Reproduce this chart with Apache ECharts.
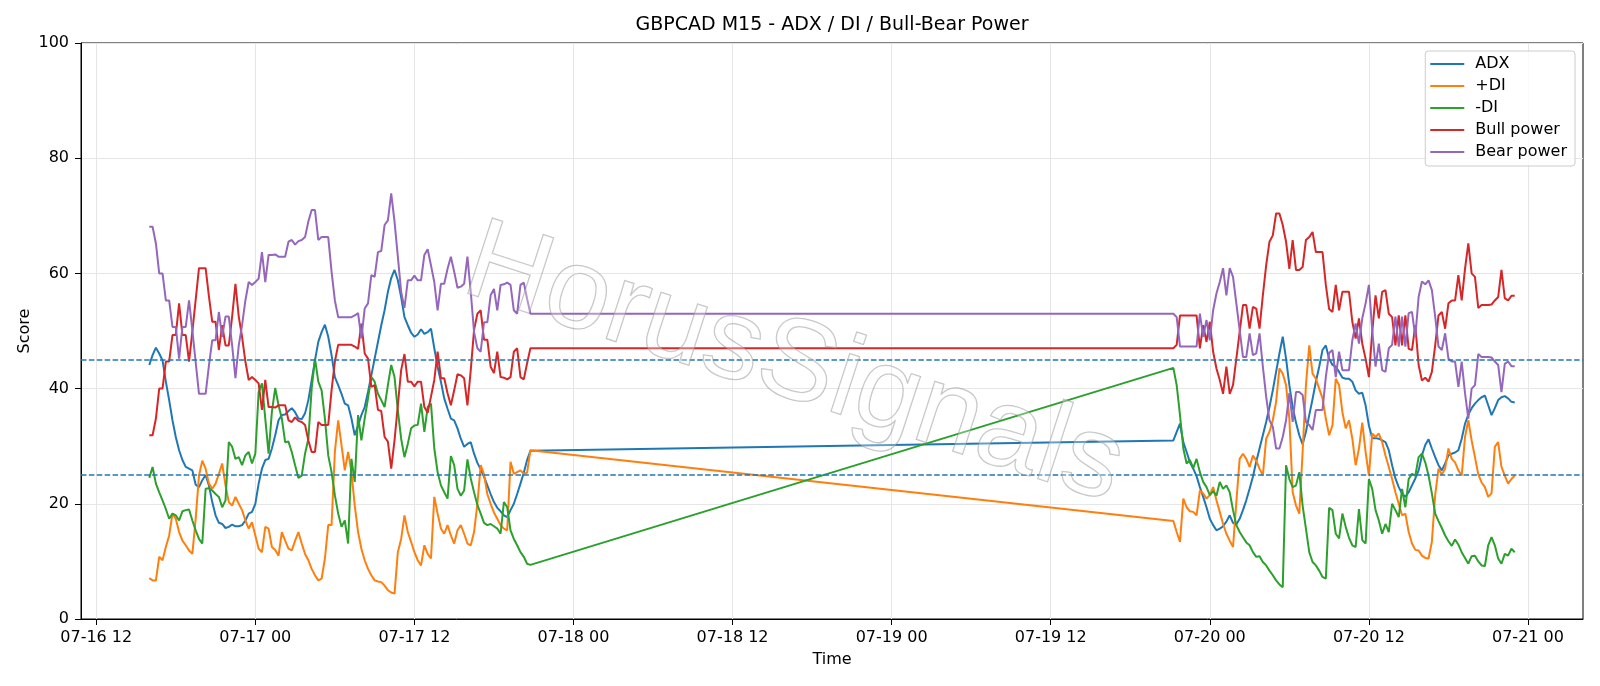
<!DOCTYPE html>
<html>
<head>
    <meta charset="utf-8">
    <title>GBPCAD M15 - ADX / DI / Bull-Bear Power</title>
    <script src="https://cdn.jsdelivr.net/npm/echarts@6/dist/echarts.min.js"></script>
    <style>html, body { margin: 0; padding: 0; background: #fff; }</style>
</head>
<body>
    <div id="main" style="width: 1600px;height:686px;"></div>
    <script type="text/javascript">
        // two trading sessions of 15-minute bars (weekend gap between them)
        var startA = Date.UTC(2020, 6, 16, 16, 0);
        var startB = Date.UTC(2020, 6, 19, 21, 15);
        var barMs = 15 * 60 * 1000;

        var adxA = [
            44.1, 45.8, 47.1, 46.1, 44.9, 41.2, 38.0, 34.5, 31.6, 29.3,
            27.6, 26.4, 26.1, 25.8, 23.3, 22.9, 24.1, 25.0, 23.2, 20.3,
            18.0, 16.7, 16.5, 15.8, 16.0, 16.4, 16.1, 16.1, 16.3, 17.1,
            18.3, 18.6, 20.0, 23.5, 26.1, 27.6, 27.8, 29.6, 31.9, 34.5,
            35.4, 35.5, 36.1, 36.6, 35.9, 34.8, 34.7, 35.7, 38.0, 41.4,
            44.9, 48.1, 49.8, 51.1, 49.0, 45.8, 42.0, 40.6, 39.1, 37.4,
            37.1, 34.8, 31.9, 33.6, 35.4, 36.8, 39.4, 42.3, 45.2, 48.1,
            51.0, 53.6, 56.8, 59.2, 60.6, 58.8, 55.9, 52.4, 51.0, 49.7,
            49.0, 49.4, 50.3, 49.5, 49.8, 50.4, 47.0, 43.8, 41.2, 38.3,
            36.5, 34.8, 34.5, 33.1, 31.3, 29.9, 30.4, 30.7, 28.7, 27.1,
            26.0, 24.7, 23.2, 21.7, 20.3, 19.3, 18.7, 18.0, 17.7, 18.9,
            20.0, 21.7, 23.5, 25.4, 27.6, 29.2
        ];
        var adxB = [
            31.0, 32.5, 33.9, 30.7, 29.0, 27.2, 26.1, 24.8, 22.9, 21.2,
            19.4, 17.4, 16.3, 15.4, 15.7, 16.1, 16.9, 18.0, 16.7, 16.4,
            17.4, 18.9, 20.6, 22.6, 24.7, 27.3, 29.6, 31.9, 34.2, 36.8,
            39.7, 42.9, 46.1, 49.0, 45.2, 40.6, 36.8, 34.1, 31.9, 30.3,
            32.5, 35.4, 38.2, 41.2, 43.8, 46.7, 47.5, 45.2, 44.1, 43.8,
            42.9, 41.9, 41.7, 41.7, 41.2, 39.7, 39.1, 39.3, 37.1, 33.6,
            31.4, 31.4, 31.3, 31.0, 30.7, 29.3, 26.7, 24.4, 22.9, 21.8,
            21.2, 22.0, 23.2, 24.4, 25.8, 28.4, 30.2, 31.2, 29.6, 28.1,
            26.7, 25.8, 27.0, 28.4, 28.7, 28.9, 29.3, 31.3, 33.9, 35.5,
            36.6, 37.4, 38.0, 38.5, 38.8, 37.1, 35.4, 36.6, 38.0, 38.5,
            38.7, 38.3, 37.7, 37.6
        ];

        var plusDiA = [
            7.1, 6.7, 6.7, 10.8, 10.2, 12.5, 14.5, 18.3, 17.4, 15.1,
            13.6, 12.8, 11.9, 11.3, 17.4, 24.9, 27.5, 26.1, 23.5, 22.6,
            23.5, 25.2, 27.0, 23.2, 20.3, 19.7, 21.2, 20.0, 18.9, 17.1,
            15.7, 16.8, 14.5, 12.2, 11.6, 16.0, 15.7, 12.5, 12.0, 11.0,
            15.1, 13.6, 12.2, 11.9, 13.6, 15.1, 13.1, 11.3, 10.2, 8.7,
            7.6, 6.7, 7.0, 10.5, 16.3, 16.3, 29.0, 34.5, 30.2, 25.8,
            29.0, 25.5, 19.7, 15.1, 12.2, 10.2, 8.7, 7.6, 6.7, 6.5,
            6.4, 5.8, 5.0, 4.6, 4.4, 11.6, 13.9, 18.0, 15.1, 13.4,
            11.6, 10.2, 9.3, 12.8, 11.3, 10.5, 21.2, 18.3, 15.7, 14.8,
            16.3, 14.5, 13.1, 15.4, 16.3, 14.8, 13.1, 12.8, 15.1, 20.0,
            26.7, 25.1, 21.7, 20.0, 18.5, 17.4, 16.3, 15.7, 15.4, 27.3,
            25.2, 25.5, 25.8, 25.2, 25.4, 29.3
        ];
        var plusDiB = [
            17.0, 15.1, 13.4, 20.9, 19.4, 18.7, 18.6, 18.0, 22.3, 21.8,
            20.9, 21.5, 22.9, 20.6, 18.6, 16.5, 14.8, 13.6, 12.5, 20.3,
            27.8, 28.7, 27.8, 26.4, 28.4, 27.5, 26.1, 24.9, 31.3, 32.5,
            34.5, 37.7, 43.5, 42.6, 40.6, 34.8, 22.0, 19.7, 18.3, 29.0,
            40.6, 47.5, 42.6, 41.7, 40.0, 38.3, 34.8, 31.9, 33.6, 41.7,
            40.6, 35.9, 33.1, 34.5, 31.3, 26.7, 29.6, 34.1, 29.0, 24.9,
            32.2, 31.6, 32.2, 30.7, 28.4, 26.4, 24.3, 22.0, 20.0, 18.0,
            18.3, 15.1, 13.1, 12.0, 11.9, 11.0, 10.6, 10.5, 13.4, 21.5,
            26.1, 25.1, 26.1, 29.6, 27.8, 27.2, 25.8, 24.9, 31.6, 34.5,
            31.0, 28.1, 25.1, 23.7, 22.9, 21.2, 21.8, 29.9, 30.7, 26.4,
            24.9, 23.5, 24.3, 24.9
        ];

        var minusDiA = [
            24.5, 26.4, 23.5, 22.0, 20.6, 19.1, 17.4, 18.3, 18.0, 17.1,
            18.7, 18.9, 19.0, 17.1, 15.4, 13.9, 13.1, 22.6, 22.7, 22.3,
            21.7, 21.2, 19.4, 20.6, 30.7, 29.9, 27.8, 28.1, 26.7, 28.4,
            29.0, 27.0, 28.7, 39.4, 40.9, 34.8, 28.7, 36.0, 40.1, 37.1,
            34.8, 30.7, 30.8, 29.0, 26.7, 24.5, 24.9, 28.7, 31.3, 40.0,
            45.2, 41.2, 39.7, 34.8, 28.4, 25.5, 21.5, 18.3, 16.0, 17.1,
            13.1, 27.8, 23.8, 35.4, 31.0, 34.8, 38.3, 42.0, 41.2, 39.1,
            38.0, 36.8, 40.6, 44.1, 42.0, 36.2, 31.3, 28.1, 30.4, 33.1,
            33.6, 33.7, 37.4, 32.5, 36.8, 37.4, 29.6, 25.5, 23.2, 22.0,
            20.9, 28.3, 26.7, 22.6, 21.4, 22.3, 27.7, 24.4, 22.0, 19.8,
            18.3, 16.7, 16.3, 16.5, 16.1, 15.7, 14.8, 20.3, 19.4, 15.4,
            13.9, 12.8, 11.6, 10.8, 9.6, 9.4
        ];
        var minusDiB = [
            43.6, 40.6, 35.4, 29.6, 27.0, 27.6, 26.2, 27.8, 25.5, 23.8,
            22.9, 21.5, 22.2, 21.4, 23.8, 22.6, 23.2, 22.0, 18.9, 16.3,
            15.1, 14.2, 13.3, 12.8, 11.6, 10.8, 10.9, 9.9, 9.3, 8.4,
            7.6, 6.7, 6.0, 5.5, 26.7, 24.3, 22.9, 23.2, 25.5, 19.7,
            15.7, 11.6, 9.9, 9.3, 8.4, 7.3, 7.0, 19.3, 18.9, 14.8,
            14.0, 18.3, 16.0, 14.1, 12.8, 12.5, 19.1, 13.7, 13.1, 24.3,
            22.6, 18.9, 17.1, 14.8, 16.5, 15.1, 20.0, 18.9, 17.7, 22.6,
            19.4, 24.3, 25.2, 24.9, 28.1, 28.7, 27.2, 24.9, 21.8, 18.3,
            17.0, 15.8, 14.5, 13.5, 12.7, 13.8, 12.9, 11.6, 10.6, 9.6,
            10.9, 11.0, 10.0, 9.3, 9.2, 12.8, 14.2, 12.8, 10.5, 9.6,
            11.3, 11.0, 12.2, 11.6
        ];

        var bullA = [
            31.9, 31.9, 34.8, 40.0, 40.0, 44.7, 44.7, 49.3, 49.3, 54.8,
            49.3, 49.3, 44.7, 49.9, 55.4, 60.9, 60.9, 60.9, 56.0, 51.6,
            51.6, 46.7, 51.0, 47.5, 47.5, 52.5, 58.2, 52.5, 49.0, 44.7,
            41.5, 42.0, 41.5, 40.9, 36.3, 41.5, 36.8, 36.8, 36.7, 37.1,
            37.1, 37.1, 34.5, 34.2, 35.0, 34.4, 34.2, 33.7, 31.0, 29.0,
            29.0, 34.2, 33.7, 33.7, 33.7, 39.7, 44.7, 47.6, 47.6, 47.6,
            47.6, 47.6, 47.3, 46.9, 51.3, 46.1, 45.2, 40.3, 40.6, 36.3,
            36.1, 31.6, 30.8, 26.1, 31.0, 37.1, 43.2, 46.0, 41.2, 41.2,
            40.4, 41.2, 41.2, 36.8, 35.8, 38.6, 41.5, 46.4, 41.8, 41.8,
            39.2, 37.1, 39.7, 42.5, 42.3, 41.8, 37.1, 43.2, 50.2, 53.0,
            53.6, 48.5, 48.5, 43.8, 42.7, 46.4, 42.0, 41.9, 41.6, 42.0,
            46.4, 47.0, 42.0, 41.6, 44.4, 47.0
        ];
        var bullB = [
            47.0, 47.6, 52.7, 52.7, 52.7, 52.7, 52.7, 52.7, 47.0, 51.0,
            48.1, 51.6, 46.4, 43.5, 41.5, 39.1, 43.8, 39.1, 40.6, 45.2,
            49.8, 54.5, 54.5, 50.4, 54.2, 53.9, 50.4, 56.2, 61.4, 65.5,
            66.6, 70.4, 70.4, 68.4, 65.5, 60.8, 65.8, 60.6, 60.6, 61.1,
            65.8, 66.3, 67.2, 63.7, 63.7, 63.7, 58.0, 53.8, 53.3, 58.0,
            53.6, 56.8, 56.8, 56.8, 51.6, 48.7, 52.2, 47.8, 45.2, 42.0,
            49.8, 56.2, 52.2, 56.8, 57.1, 53.0, 52.4, 47.5, 52.7, 47.5,
            52.7, 46.9, 46.7, 51.0, 44.1, 41.4, 41.9, 41.2, 42.9, 47.5,
            52.7, 53.3, 50.4, 54.8, 55.3, 55.3, 59.7, 55.3, 60.8, 65.2,
            60.0, 59.4, 54.0, 54.5, 54.5, 54.5, 54.6, 55.3, 55.9, 60.6,
            55.7, 55.3, 56.1, 56.1
        ];

        var bearA = [
            68.1, 68.1, 65.2, 60.0, 60.0, 55.3, 55.3, 50.7, 50.7, 45.2,
            50.7, 50.7, 55.3, 50.1, 44.6, 39.1, 39.1, 39.1, 44.0, 48.4,
            48.4, 53.3, 49.0, 52.5, 52.5, 47.5, 41.8, 47.5, 51.0, 55.3,
            58.5, 58.0, 58.5, 59.1, 63.7, 58.5, 63.2, 63.2, 63.3, 62.9,
            62.9, 62.9, 65.5, 65.8, 65.0, 65.6, 65.8, 66.3, 69.0, 71.0,
            71.0, 65.8, 66.3, 66.3, 66.3, 60.3, 55.3, 52.4, 52.4, 52.4,
            52.4, 52.4, 52.7, 53.1, 48.7, 53.9, 54.8, 59.7, 59.4, 63.7,
            63.9, 68.4, 69.2, 73.9, 69.0, 62.9, 56.8, 54.0, 58.8, 58.8,
            59.6, 58.8, 58.8, 63.2, 64.2, 61.4, 58.5, 53.6, 58.2, 58.2,
            60.8, 62.9, 60.3, 57.5, 57.7, 58.2, 62.9, 56.8, 49.8, 47.0,
            46.4, 51.5, 51.5, 56.2, 57.3, 53.6, 58.0, 58.1, 58.4, 58.0,
            53.6, 53.0, 58.0, 58.4, 55.6, 53.0
        ];
        var bearB = [
            53.0, 52.4, 47.3, 47.3, 47.3, 47.3, 47.3, 47.3, 53.0, 49.0,
            51.9, 48.4, 53.6, 56.5, 58.5, 60.9, 56.2, 60.9, 59.4, 54.8,
            50.2, 45.5, 45.5, 49.6, 45.8, 46.1, 49.6, 43.8, 38.6, 34.5,
            33.4, 29.6, 29.6, 31.6, 34.5, 39.2, 34.2, 39.4, 39.4, 38.9,
            34.2, 33.7, 32.8, 36.3, 36.3, 36.3, 42.0, 46.2, 46.7, 42.0,
            46.4, 43.2, 43.2, 43.2, 48.4, 51.3, 47.8, 52.2, 54.8, 58.0,
            50.2, 43.8, 47.8, 43.2, 42.9, 47.0, 47.6, 52.5, 47.3, 52.5,
            47.3, 53.1, 53.3, 49.0, 55.9, 58.6, 58.1, 58.8, 57.1, 52.5,
            47.3, 46.7, 49.6, 45.2, 44.7, 44.7, 40.3, 44.7, 39.2, 34.8,
            40.0, 40.6, 46.0, 45.5, 45.5, 45.5, 45.4, 44.7, 44.1, 39.4,
            44.3, 44.7, 43.9, 43.9
        ];

        var adxLevels = [25, 45];
        var xTickLabels = ['07-16 12', '07-17 00', '07-17 12', '07-18 00', '07-18 12',
                           '07-19 00', '07-19 12', '07-20 00', '07-20 12', '07-21 00'];

        function pad(n) { return (n < 10 ? '0' : '') + n; }
        function labelTime(s) {
            return Date.UTC(2020, +s.slice(0, 2) - 1, +s.slice(3, 5), +s.slice(6, 8));
        }
        function toPoints(a, b) {
            var pts = [];
            a.forEach(function (v, i) { pts.push([startA + i * barMs, v]); });
            b.forEach(function (v, i) { pts.push([startB + i * barMs, v]); });
            return pts;
        }

        var xTicks = xTickLabels.map(labelTime);
        var first = startA;
        var last = startB + (adxB.length - 1) * barMs;
        var pad5 = (last - first) * 0.05;

        var FONT = 'DejaVu Sans';
        var myChart = echarts.init(document.getElementById('main'));

        function lineSeries(name, color, a, b) {
            return {
                name: name,
                type: 'line',
                showSymbol: false,
                symbol: 'none',
                data: toPoints(a, b),
                lineStyle: { color: color, width: 2 },
                itemStyle: { color: color }
            };
        }

        var adxSeries = lineSeries('ADX', '#1f77b4', adxA, adxB);
        adxSeries.markLine = {
            silent: true,
            symbol: ['none', 'none'],
            label: { show: false },
            lineStyle: { color: '#1f77b4', type: [5.5, 2.4], width: 1.5 },
            data: adxLevels.map(function (v) { return { yAxis: v }; })
        };

        option = {
            animation: false,
            backgroundColor: '#fff',
            textStyle: { fontFamily: FONT },
            title: {
                text: 'GBPCAD M15 - ADX / DI / Bull-Bear Power',
                left: 832,
                top: 16,
                padding: 0,
                textAlign: 'center',
                textStyle: { fontSize: 19, fontWeight: 'normal', color: '#000', fontFamily: FONT }
            },
            legend: {
                orient: 'vertical',
                right: 25,
                top: 51,
                padding: [5, 8, 6, 5],
                itemGap: 6,
                itemWidth: 34,
                itemHeight: 2,
                icon: 'rect',
                backgroundColor: 'rgba(255,255,255,0.8)',
                borderColor: '#cccccc',
                borderWidth: 1,
                borderRadius: 3,
                textStyle: { fontSize: 16, color: '#000', fontFamily: FONT, lineHeight: 16, padding: [0, 0, 0, 6] },
                data: ['ADX', '+DI', '-DI', 'Bull power', 'Bear power']
            },
            grid: {
                left: 81, right: 17, top: 43, bottom: 67,
                show: true, borderColor: '#000', borderWidth: 1, backgroundColor: 'transparent'
            },
            xAxis: {
                type: 'value',
                min: first - pad5,
                max: last + pad5,
                name: 'Time',
                nameLocation: 'middle',
                nameGap: 33,
                nameMoveOverlap: false,
                nameTextStyle: { fontSize: 16, color: '#000', fontFamily: FONT },
                axisLine: { show: true, lineStyle: { color: '#000', width: 1 } },
                axisTick: { show: true, length: 6, lineStyle: { color: '#000' }, customValues: xTicks },
                axisLabel: {
                    customValues: xTicks,
                    fontSize: 16,
                    color: '#000',
                    margin: 11,
                    fontFamily: FONT,
                    formatter: function (v) {
                        var d = new Date(v);
                        return pad(d.getUTCMonth() + 1) + '-' + pad(d.getUTCDate()) + ' ' + pad(d.getUTCHours());
                    }
                },
                splitLine: { show: true, lineStyle: { color: '#e6e6e6', width: 1 } }
            },
            yAxis: {
                type: 'value',
                min: 0,
                max: 100,
                interval: 20,
                name: 'Score',
                nameLocation: 'middle',
                nameGap: 48,
                nameMoveOverlap: false,
                nameRotate: 90,
                nameTextStyle: { fontSize: 16, color: '#000', fontFamily: FONT },
                axisLine: { show: true, lineStyle: { color: '#000', width: 1 } },
                axisTick: { show: true, length: 6, lineStyle: { color: '#000' } },
                axisLabel: { fontSize: 16, color: '#000', margin: 12, fontFamily: FONT },
                splitLine: { show: true, lineStyle: { color: '#e6e6e6', width: 1 } }
            },
            graphic: [{
                type: 'text',
                x: 794,
                y: 366,
                rotation: -18 * Math.PI / 180,
                z: 100,
                silent: true,
                style: {
                    text: 'HorusSignals',
                    x: 0,
                    y: 0,
                    align: 'center',
                    verticalAlign: 'middle',
                    fontSize: 115,
                    fontFamily: 'Liberation Sans',
                    fill: 'rgba(255,255,255,0.3)',
                    stroke: 'rgba(140,140,140,0.55)',
                    lineWidth: 1.3
                }
            }],
            series: [
                adxSeries,
                lineSeries('+DI', '#ff7f0e', plusDiA, plusDiB),
                lineSeries('-DI', '#2ca02c', minusDiA, minusDiB),
                lineSeries('Bull power', '#d62728', bullA, bullB),
                lineSeries('Bear power', '#9467bd', bearA, bearB)
            ]
        };

        // use configuration item and data specified to show chart
        myChart.setOption(option);
    </script>
</body>
</html>
